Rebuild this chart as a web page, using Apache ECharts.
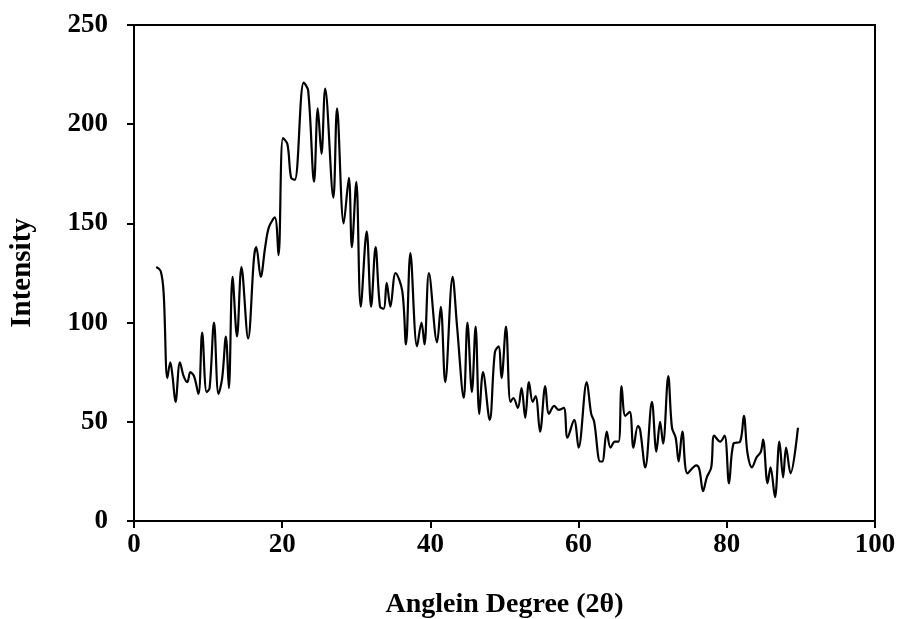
<!DOCTYPE html>
<html>
<head>
<meta charset="utf-8">
<script src="https://cdn.jsdelivr.net/npm/echarts@6/dist/echarts.min.js"></script>
<style>
  html, body { margin: 0; padding: 0; background: #fff; }
  #chart { width: 898px; height: 619px; }
</style>
</head>
<body>
<div id="chart"></div>
<script>
// diffraction pattern
const angles = [
  3.0, 3.6, 4.0, 4.5, 4.9, 5.2, 5.6, 6.2, 6.7, 7.2, 7.6, 8.1, 8.7, 9.2, 9.8, 10.2, 10.8, 11.4, 11.9, 12.4,
  12.8, 13.3, 13.9, 14.5, 15.4, 16.2, 16.5, 17.1, 17.7, 18.2, 19.0, 19.5, 20.1, 20.7, 21.2, 21.7, 22.9, 23.5,
  24.3, 24.8, 25.3, 25.8, 26.9, 27.4, 28.3, 29.0, 29.4, 30.0, 30.6, 31.4, 32.0, 32.6, 33.2, 33.7, 34.1, 34.6,
  35.3, 36.2, 36.7, 37.3, 38.2, 38.8, 39.2, 39.8, 40.9, 41.4, 42.0, 43.0, 43.6, 44.5, 45.0, 45.6, 46.1, 46.6,
  47.1, 48.0, 48.7, 49.2, 49.6, 50.2, 50.8, 51.2, 51.8, 52.3, 52.8, 53.3, 53.8, 54.2, 54.8, 55.5, 56.0, 56.7,
  57.3, 58.0, 58.5, 59.4, 60.0, 61.1, 61.7, 62.1, 62.9, 63.2, 63.8, 64.3, 64.9, 65.4, 65.8, 66.3, 66.9, 67.4,
  68.0, 68.3, 69.0, 69.9, 70.5, 71.0, 71.4, 72.1, 72.6, 73.1, 73.5, 74.0, 74.7, 75.9, 76.3, 76.8, 77.3, 77.9,
  78.3, 79.1, 79.7, 80.3, 80.9, 81.8, 82.3, 82.8, 83.4, 84.0, 84.6, 84.9, 85.5, 85.9, 86.5, 87.1, 87.6, 88.0,
  88.6, 89.6
];
const intensity = [
  128, 126, 115, 72, 80, 73, 60, 80, 73, 70, 75, 73, 64, 95, 65, 67, 100, 64, 72, 93,
  67, 123, 93, 128, 92, 133, 138, 123, 138, 148, 153, 134, 193, 190, 173, 172, 221, 217,
  171, 208, 185, 218, 163, 208, 150, 173, 138, 171, 108, 146, 108, 138, 108, 107, 120, 108,
  125, 116, 89, 135, 88, 100, 89, 125, 90, 108, 70, 123, 98, 62, 100, 65, 98, 54,
  75, 51, 85, 88, 72, 98, 60, 62, 57, 67, 52, 70, 60, 63, 45, 68, 54, 58,
  56, 57, 42, 51, 37, 70, 54, 50, 30, 30, 45, 37, 40, 40, 68, 53, 55, 37,
  48, 46, 27, 60, 35, 50, 39, 73, 47, 42, 30, 45, 24, 28, 26, 15, 22, 27,
  43, 40, 43, 19, 39, 40, 53, 34, 27, 32, 35, 41, 19, 27, 12, 40, 22, 37,
  24, 47
];
const xTicks = [0, 20, 40, 60, 80, 100];
const yTicks = [0, 50, 100, 150, 200, 250];

const points = angles.map((a, i) => [a, intensity[i]]);

const chart = echarts.init(document.getElementById('chart'));
const font = { fontFamily: 'Liberation Serif', fontWeight: 'bold', color: '#000' };
chart.setOption({
  animation: false,
  grid: {
    left: 134, right: 23, top: 25, bottom: 98,
    outerBoundsMode: 'none', containLabel: false,
    show: true, borderColor: '#000', borderWidth: 2
  },
  xAxis: {
    type: 'value',
    min: xTicks[0], max: xTicks[xTicks.length - 1], interval: 20,
    name: 'Anglein Degree (2θ)', nameLocation: 'middle', nameGap: 70,
    nameTextStyle: { ...font, fontSize: 28 },
    axisLine: { show: true, lineStyle: { color: '#000', width: 2 } },
    axisTick: { show: true, inside: false, length: 7, lineStyle: { color: '#000', width: 2 } },
    axisLabel: { ...font, fontSize: 27, margin: 11 },
    splitLine: { show: false }
  },
  yAxis: {
    type: 'value',
    min: yTicks[0], max: yTicks[yTicks.length - 1], interval: 50,
    name: 'Intensity', nameLocation: 'middle', nameGap: 97, nameRotate: 90,
    nameTextStyle: { ...font, fontSize: 29 },
    axisLine: { show: true, lineStyle: { color: '#000', width: 2 } },
    axisTick: { show: true, inside: false, length: 7, lineStyle: { color: '#000', width: 2 } },
    axisLabel: { ...font, fontSize: 27, margin: 26 },
    splitLine: { show: false }
  },
  series: [{
    type: 'line',
    data: points,
    smooth: 0.35,
    showSymbol: false,
    lineStyle: { color: '#000', width: 2.2 }
  }]
});
</script>
</body>
</html>
